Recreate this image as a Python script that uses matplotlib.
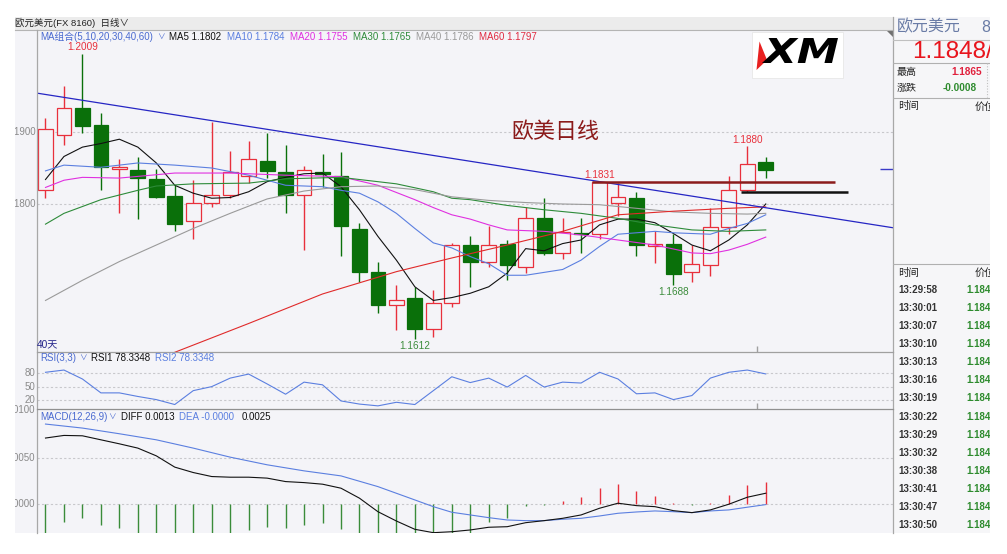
import numpy as np
import matplotlib.pyplot as plt
from matplotlib.patches import Rectangle, Polygon, PathPatch
from matplotlib.textpath import TextPath
from matplotlib.font_manager import FontProperties
from matplotlib.transforms import Affine2D

plt.rcParams['font.family'] = ['Liberation Sans', 'Noto Sans CJK SC', 'DejaVu Sans']

# ---- daily EUR/USD candles (40 days) ----
days = np.arange(1, 41)
opens = [1.1819, 1.1896, 1.1934, 1.1910, 1.1848, 1.1847, 1.1835, 1.1811, 1.1777, 1.1801,
         1.1812, 1.1839, 1.1860, 1.1845, 1.1813, 1.1844, 1.1839, 1.1765, 1.1706, 1.1659,
         1.1669, 1.1627, 1.1662, 1.1743, 1.1719, 1.1744, 1.1713, 1.1781, 1.1732, 1.1760,
         1.1758, 1.1801, 1.1809, 1.1742, 1.1744, 1.1706, 1.1715, 1.1768, 1.1820, 1.1858]
closes = [1.1904, 1.1934, 1.1909, 1.1852, 1.1851, 1.1836, 1.1810, 1.1772, 1.1802, 1.1813,
          1.1845, 1.1863, 1.1846, 1.1813, 1.1847, 1.1841, 1.1769, 1.1706, 1.1659, 1.1667,
          1.1627, 1.1663, 1.1743, 1.1719, 1.1743, 1.1715, 1.1781, 1.1732, 1.1761, 1.1758,
          1.1830, 1.1810, 1.1743, 1.1745, 1.1703, 1.1717, 1.1768, 1.1819, 1.1855, 1.1847]
highs = [1.1919, 1.1964, 1.2009, 1.1927, 1.1863, 1.1865, 1.1849, 1.1826, 1.1833, 1.1914,
         1.1873, 1.1888, 1.1899, 1.1882, 1.1853, 1.1869, 1.1872, 1.1773, 1.1719, 1.1687,
         1.1685, 1.1681, 1.1746, 1.1756, 1.1769, 1.1750, 1.1796, 1.1808, 1.1780, 1.1780,
         1.1831, 1.1829, 1.1816, 1.1762, 1.1758, 1.1743, 1.1794, 1.1839, 1.1880, 1.1865]
lows = [1.1809, 1.1882, 1.1899, 1.1820, 1.1788, 1.1779, 1.1808, 1.1763, 1.1751, 1.1796,
        1.1809, 1.1829, 1.1836, 1.1787, 1.1736, 1.1823, 1.1728, 1.1691, 1.1649, 1.1625,
        1.1612, 1.1615, 1.1657, 1.1685, 1.1713, 1.1695, 1.1704, 1.1729, 1.1723, 1.1732,
        1.1752, 1.1783, 1.1728, 1.1718, 1.1688, 1.1692, 1.1700, 1.1759, 1.1817, 1.1836]

# moving averages
ma5 = [1.1834, 1.1866, 1.1879, 1.1884, 1.1890, 1.1879, 1.1857, 1.1826, 1.1815, 1.1808,
       1.1809, 1.1817, 1.1831, 1.1837, 1.1842, 1.1843, 1.1824, 1.1792, 1.1755, 1.1722,
       1.1685, 1.1666, 1.1670, 1.1676, 1.1685, 1.1704, 1.1738, 1.1735, 1.1745, 1.1750,
       1.1771, 1.1779, 1.1779, 1.1774, 1.1759, 1.1743, 1.1735, 1.1750, 1.1771, 1.1800]
ma10_x = [1, 2, 4, 6, 8, 10, 12, 14, 16] + list(range(17, 41))
ma10 = [1.1846, 1.1854, 1.1851, 1.1857, 1.1854, 1.1850, 1.1840, 1.1826, 1.1824, 1.1819,
        1.1815, 1.1803, 1.1787, 1.1766, 1.1746, 1.1739, 1.1727, 1.1717, 1.1701, 1.1701,
        1.1705, 1.1709, 1.1722, 1.1741, 1.1758, 1.1760, 1.1762, 1.1760, 1.1759, 1.1758,
        1.1766, 1.1773, 1.1785]
ma20_x = [1, 2, 3, 5, 8, 11, 14, 17, 19, 21, 22, 23, 24, 25, 26, 28, 30, 32, 34, 36, 37, 38, 39, 40]
ma20 = [1.1823, 1.1833, 1.1837, 1.1836, 1.1843, 1.1843, 1.1840, 1.1838, 1.1826, 1.1806,
        1.1795, 1.1785, 1.1779, 1.1771, 1.1764, 1.1762, 1.1757, 1.1750, 1.1743, 1.1732,
        1.1731, 1.1736, 1.1744, 1.1754]
ma30_x = [1, 2, 4, 6, 7, 9, 12, 14, 17, 20, 22, 23, 24, 26, 28, 30, 32, 34, 36, 38, 40]
ma30 = [1.1772, 1.1787, 1.1806, 1.1819, 1.1825, 1.1828, 1.1829, 1.1835, 1.1837, 1.1828,
        1.1817, 1.1808, 1.1806, 1.1798, 1.1792, 1.1787, 1.1780, 1.1771, 1.1764, 1.1762, 1.1764]
ma40_x = [1, 3, 5, 7, 9, 11, 13, 15, 17, 19, 21, 23, 25, 27, 29, 31, 33, 35, 37, 39, 40]
ma40 = [1.1666, 1.1694, 1.1720, 1.1743, 1.1766, 1.1787, 1.1807, 1.1818, 1.1824, 1.1825,
        1.1820, 1.1810, 1.1805, 1.1802, 1.1800, 1.1799, 1.1794, 1.1789, 1.1787, 1.1786, 1.1787]
ma60_x = [8, 12, 16, 20, 23, 26, 29, 32, 35, 38, 40]
ma60 = [1.1594, 1.1634, 1.1675, 1.1706, 1.1725, 1.1743, 1.1762, 1.1785, 1.1790, 1.1794, 1.1796]

# drawn lines
trend_x = [0.54, 46.89]
trend_y = [1.1954, 1.1767]
resist_x = [30.59, 43.74]
resist_y = 1.1830
support_x = [38.64, 44.45]
support_y = 1.1816
last_price = 1.1848

# RSI(3,3)
rsi = [82, 87, 67, 36, 36, 28, 21, 10, 41, 50,
       69, 78, 56, 33, 60, 54, 18, 11, 7, 15,
       10, 41, 72, 59, 69, 49, 75, 49, 60, 58,
       82, 67, 34, 36, 21, 30, 69, 82, 87, 78.3]

# MACD(12,26,9)
dif = [0.00710, 0.00738, 0.00734, 0.00691, 0.00648, 0.00602, 0.00519, 0.00398, 0.00340, 0.00297,
       0.00290, 0.00290, 0.00280, 0.00243, 0.00232, 0.00215, 0.00172, 0.00065, -0.00080, -0.00180,
       -0.00269, -0.00305, -0.00295, -0.00276, -0.00247, -0.00241, -0.00198, -0.00176, -0.00151, -0.00115,
       -0.00043, 0.00011, -0.00015, -0.00026, -0.00069, -0.00090, -0.00061, 0.00000, 0.00075, 0.00118]
dea_x = [1, 3, 5, 7, 9, 11, 13, 15, 17, 19, 21] + list(range(22, 41))
dea = [0.00860, 0.00817, 0.00756, 0.00691, 0.00602, 0.00505, 0.00423, 0.00358, 0.00304, 0.00189,
       0.00046, -0.00026, -0.00086, -0.00115, -0.00144, -0.00169, -0.00176, -0.00176, -0.00161, -0.00151,
       -0.00126, -0.00097, -0.00083, -0.00072, -0.00080, -0.00090, -0.00072, -0.00061, -0.00032, -0.00004]
macd_hist = [-0.0035, -0.00187, -0.0015, -0.00223, -0.00258, -0.0035, -0.0035, -0.0035, -0.0035, -0.0035,
             -0.0035, -0.00276, -0.00241, -0.00258, -0.00223, -0.00198, -0.00269, -0.0035, -0.0035, -0.0035,
             -0.0035, -0.0035, -0.0035, -0.0035, -0.00187, -0.0015, -0.0002, -0.0001, 0.00035, 0.00075,
             0.00172, 0.00218, 0.00143, 0.00093, 0.0001, -0.0001, 0.0001, 0.0010, 0.00208, 0.00243]

tick_times = ["13:29:58", "13:30:01", "13:30:07", "13:30:10", "13:30:13", "13:30:16", "13:30:19",
              "13:30:22", "13:30:29", "13:30:32", "13:30:38", "13:30:41", "13:30:47", "13:30:50"]
tick_prices = ["1.1848"] * 14

RED = '#e8303c'
GREEN = '#0a700a'
BG = '#f4f4f8'
W, H = 1007, 554

fig = plt.figure(figsize=(W / 100, H / 100), dpi=100)


def px_axes(x0, y0, x1, y1, z=1):
    a = fig.add_axes([x0 / W, 1 - y1 / H, (x1 - x0) / W, (y1 - y0) / H], zorder=z)
    a.patch.set_alpha(0)
    return a


def blank(a):
    a.set_xticks([])
    a.set_yticks([])
    for s in a.spines.values():
        s.set_visible(False)


# background layer in pixel coords
bg = px_axes(0, 0, W, H, z=0)
bg.set_xlim(0, W)
bg.set_ylim(H, 0)
bg.axis('off')
bg.add_patch(Rectangle((15, 17), 878, 13, facecolor='#ececec', edgecolor='none'))
bg.add_patch(Rectangle((15, 30), 878, 503, facecolor=BG, edgecolor='none'))
bg.add_patch(Rectangle((893, 17), 97, 516, facecolor='#f6f6f8', edgecolor='none'))

xl = (0.54, 46.89)

# ---- main price pane ----
ax = px_axes(37, 30, 893, 352, z=2)
blank(ax)
ax.set_xlim(*xl)
ax.set_ylim(1.15944, 1.20417)
for g in (1.19, 1.18):
    ax.axhline(g, color='#c8c8cc', lw=0.8, ls=(0, (2, 2)), zorder=1)

for d, o, h, l, c in zip(days, opens, highs, lows, closes):
    up = c >= o
    col = RED if up else GREEN
    ax.vlines(d, l, h, color=col, lw=1, zorder=2)
    ax.bar(d, max(abs(c - o), 0.00004), width=0.8, bottom=min(o, c),
           color=BG if up else GREEN, edgecolor=col, lw=0.9, zorder=3)

ax.plot(days, ma5, color='#111111', lw=0.8, zorder=4)
ax.plot(ma10_x, ma10, color='#5b7fe0', lw=0.8, zorder=4)
ax.plot(ma20_x, ma20, color='#e030e0', lw=0.8, zorder=4)
ax.plot(ma30_x, ma30, color='#2e8b3a', lw=0.8, zorder=4)
ax.plot(ma40_x, ma40, color='#9a9a9a', lw=0.8, zorder=4)
ax.plot(ma60_x, ma60, color='#e02a2a', lw=0.8, zorder=4)

ax.plot(trend_x, trend_y, color='#2626c4', lw=0.9, zorder=5)
ax.hlines(resist_y, *resist_x, color='#8b1c1c', lw=1.8, zorder=5)
ax.hlines(support_y, *support_x, color='#111111', lw=1.8, zorder=5)
ax.hlines(last_price, 46.18, 46.89, color='#3a3ac8', lw=1, zorder=5)
ax.vlines(39.52, 1.15944, 1.1603, color='#a0a0a0', lw=1)

lab_kw = dict(ha='center', fontsize=7.2, zorder=6)
ax.annotate(f'{highs[2]:.4f}', (3, highs[2]), xytext=(0, 1), textcoords='offset points',
            va='bottom', color=RED, **lab_kw)
ax.annotate(f'{highs[30]:.4f}', (31, highs[30]), xytext=(0, 1), textcoords='offset points',
            va='bottom', color=RED, **lab_kw)
ax.annotate(f'{highs[38]:.4f}', (39, highs[38]), xytext=(0, 1), textcoords='offset points',
            va='bottom', color=RED, **lab_kw)
ax.annotate(f'{lows[20]:.4f}', (21, lows[20]), xytext=(0, -1.5), textcoords='offset points',
            va='top', color='#3c8c3c', **lab_kw)
ax.annotate(f'{lows[34]:.4f}', (35, lows[34]), xytext=(0, -1.5), textcoords='offset points',
            va='top', color='#3c8c3c', **lab_kw)
ax.text(511, 132, '欧美日线', transform=bg.transData, fontsize=15.8, color='#8b1a1a',
        va='center', ha='left', zorder=6)

# ---- RSI pane ----
rx = px_axes(37, 352, 893, 409, z=2)
blank(rx)
rx.set_xlim(*xl)
rx.set_ylim(0, 127.3)
for g in (80, 50, 20):
    rx.axhline(g, color='#c8c8cc', lw=0.8, ls=(0, (2, 2)))
rx.plot(days, rsi, color='#5b7fe0', lw=0.8)
rx.vlines(39.52, 0, 13, color='#a0a0a0', lw=1)

# ---- MACD pane ----
mx = px_axes(37, 409, 893, 533, z=2)
blank(mx)
mx.set_xlim(*xl)
mx.set_ylim(-0.003086, 0.010215)
for g in (0.005, 0.0):
    mx.axhline(g, color='#c8c8cc', lw=0.8, ls=(0, (2, 2)))
hist_cols = [RED if v > 0 else '#3a8c3a' for v in macd_hist]
mx.vlines(days, 0, macd_hist, colors=hist_cols, lw=1)
mx.plot(dea_x, dea, color='#5b7fe0', lw=0.8)
mx.plot(days, dif, color='#111111', lw=0.8)

# ---- frame lines and headers (pixel coords) ----
ov = px_axes(0, 0, W, H, z=3)
ov.set_xlim(0, W)
ov.set_ylim(H, 0)
ov.axis('off')
ov.plot([15, 893], [30, 30], color='#b4b4b4', lw=0.8)
ov.plot([37, 37], [30, 533], color='#a8a8a8', lw=0.9)
ov.plot([893, 893], [17, 533], color='#a8a8a8', lw=0.9)
ov.plot([37, 893], [352, 352], color='#a0a0a0', lw=0.9)
ov.plot([37, 893], [409, 409], color='#909090', lw=0.9)
ov.add_patch(Polygon([(886, 30), (893, 30), (893, 37)], closed=True, color='#707070', lw=0))

ov.text(15, 23, '欧元美元(FX 8160)  日线∨', fontsize=6.8, color='#222222', va='center')

hdr = [(40, 'MA组合(5,10,20,30,40,60)', '#4a6ad0'), (169, 'MA5 1.1802', '#111111'),
       (227, 'MA10 1.1784', '#5b7fe0'), (290, 'MA20 1.1755', '#e030e0'),
       (353, 'MA30 1.1765', '#2e8b3a'), (416, 'MA40 1.1786', '#9a9a9a'),
       (479, 'MA60 1.1797', '#e02a40')]
for x, t, c in hdr:
    ov.text(x, 37, t, fontsize=7.0, color=c, va='center')
ov.text(157, 37.5, '∨', fontsize=5.5, color='#4a6ad0', va='center')
for x, t, c in [(40, 'RSI(3,3)', '#4a6ad0'), (91, 'RSI1 78.3348', '#111111'),
                (155, 'RSI2 78.3348', '#5b7fe0')]:
    ov.text(x, 358, t, fontsize=7.0, color=c, va='center')
ov.text(79, 358.5, '∨', fontsize=5.5, color='#4a6ad0', va='center')
for x, t, c in [(40, 'MACD(12,26,9)', '#4a6ad0'), (121, 'DIFF 0.0013', '#111111'),
                (179, 'DEA -0.0000', '#5b7fe0'), (242, '0.0025', '#111111')]:
    ov.text(x, 417, t, fontsize=7.0, color=c, va='center')
ov.text(108, 417.5, '∨', fontsize=5.5, color='#4a6ad0', va='center')
ov.text(37, 344, '40天', fontsize=7.3, color='#23238a', va='center')

# XM logo
ov.add_patch(Rectangle((752, 32), 91, 46, facecolor='white', edgecolor='#e4e4e4', lw=0.5))
ov.add_patch(Polygon([(756.5, 70), (759.5, 41.5), (767, 60)], closed=True, color='#e82020', lw=0))
fp = FontProperties(family='DejaVu Sans', weight='bold', style='italic')
tp = TextPath((0, 0), 'XM', size=1, prop=fp)
ext = tp.get_extents()
sx = 76 / ext.width
sy = 25 / ext.height
tr = Affine2D().translate(-ext.x0, -ext.y0).scale(sx, -sy).translate(762, 63) + ov.transData
ov.add_patch(PathPatch(tp, facecolor='black', edgecolor='none', transform=tr))

# y-axis labels, cut off at the panel edge like the screenshot
la = px_axes(15, 30, 37, 533, z=3)
la.set_xlim(15, 37)
la.set_ylim(533, 30)
la.axis('off')
for y, t in [(132, '1.1900'), (204, '1.1800'), (373.3, '80'), (386.7, '50'), (400.3, '20'),
             (410, '0.0100'), (458, '0.0050'), (504.3, '0.0000')]:
    la.text(35.5, y, t, fontsize=7, color='#8a8a8a', ha='right', va='center', clip_on=True)

# right quote panel
rp = px_axes(893, 17, 990, 533, z=3)
rp.set_xlim(893, 990)
rp.set_ylim(533, 17)
rp.axis('off')
rp.text(897, 27, '欧元美元', fontsize=11.5, color='#6a7ca6', va='center', clip_on=True)
rp.text(981, 27, '8', fontsize=11.5, color='#6a7ca6', va='center', clip_on=True)
rp.plot([893, 990], [40, 40], color='#c0c0c0', lw=0.8)
rp.text(912, 51.5, '1.1848/', fontsize=17.5, color='#e8141c', va='center', clip_on=True)
rp.plot([893, 990], [63, 63], color='#b0b0b0', lw=0.8)
rp.text(897, 72, '最高', fontsize=7.2, color='#222222', va='center')
rp.text(951, 72, '1.1865', fontsize=7.2, color='#e0203c', va='center', weight='bold')
rp.text(897, 88, '涨跌', fontsize=7.2, color='#222222', va='center')
rp.text(943, 88, '-0.0008', fontsize=7.2, color='#2e8b2e', va='center', weight='bold')
rp.plot([987, 987], [63, 97], color='#c0c0c0', lw=0.8, ls=(0, (1, 1.5)))
rp.plot([893, 990], [97.5, 97.5], color='#b0b0b0', lw=0.8)
rp.text(898, 106.5, '时间', fontsize=7.5, color='#222222', va='center')
rp.text(975, 106.5, '价位', fontsize=7.5, color='#222222', va='center', clip_on=True)
rp.plot([893, 990], [264, 264], color='#b0b0b0', lw=0.8)
rp.text(898, 273, '时间', fontsize=7.5, color='#222222', va='center')
rp.text(975, 273, '价位', fontsize=7.5, color='#222222', va='center', clip_on=True)
for k, (t, p) in enumerate(zip(tick_times, tick_prices)):
    y = 290 + k * 18.08
    rp.text(898, y, t, fontsize=7, color='#333333', weight='bold', va='center')
    rp.text(966, y, p, fontsize=7, color='#2e8b2e', weight='bold', va='center', clip_on=True)

fig.savefig('out.png', dpi=100, facecolor='white')
